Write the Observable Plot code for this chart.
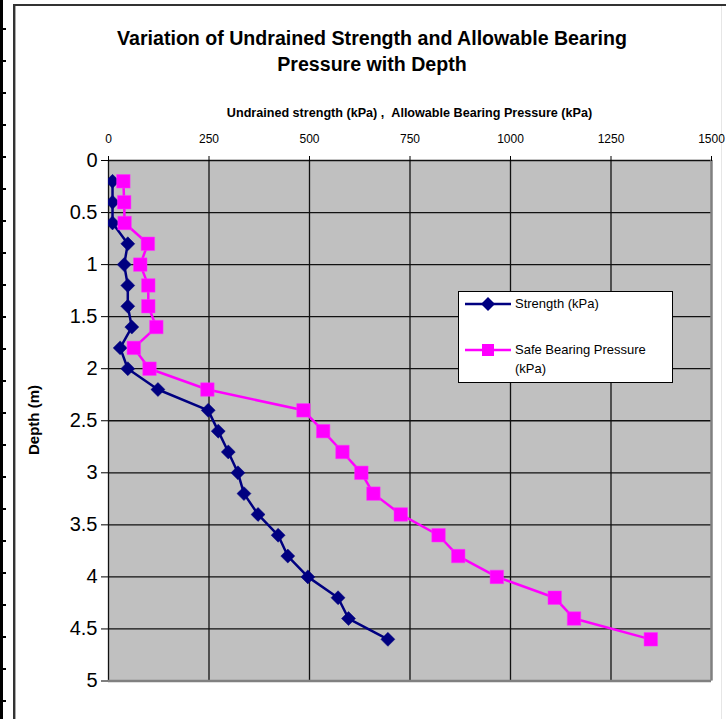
<!DOCTYPE html>
<html>
<head>
<meta charset="utf-8">
<script src="https://cdn.jsdelivr.net/npm/d3@7"></script>
<script src="https://cdn.jsdelivr.net/npm/@observablehq/plot@0.6"></script>
<style>
  html, body { margin: 0; padding: 0; background: #fff; }
  #wrap { position: relative; width: 726px; height: 719px; overflow: hidden; font-family: "Liberation Sans", Arial, sans-serif; }
  #wrap svg.plot { position: absolute; left: 0; top: 0; }
  .abs { position: absolute; }
  .title { left: 14px; width: 716px; text-align: center; font-weight: bold; font-size: 19.6px; line-height: 26px; top: 25px; color: #000; }
  .xlabel { left: 108px; width: 603px; text-align: center; font-weight: bold; font-size: 12.6px; top: 106px; color: #000; }
  .ylabel { font-weight: bold; font-size: 15px; left: 33px; top: 420px; transform: translate(-50%, -50%) rotate(-90deg); white-space: nowrap; }
  .legend { left: 458px; top: 291px; width: 213px; height: 90px; background: #fff; border: 1px solid #000; }
  .legtext { font-size: 13px; color: #000; line-height: 19px; }
</style>
</head>
<body>
<div id="wrap"></div>
<script>
// ---- data ----
const depth = [0.2, 0.4, 0.6, 0.8, 1.0, 1.2, 1.4, 1.6, 1.8, 2.0, 2.2, 2.4, 2.6, 2.8, 3.0, 3.2, 3.4, 3.6, 3.8, 4.0, 4.2, 4.4, 4.6];
const strength = [10, 10, 10, 48, 39, 48, 48, 58, 29, 48, 123, 248, 273, 298, 322, 337, 372, 422, 446, 496, 571, 597, 695];
const bearing = [37, 39, 40, 98, 79, 99, 99, 119, 63, 102, 246, 485, 534, 582, 629, 659, 727, 821, 870, 966, 1110, 1158, 1349];
const xTicks = [0, 250, 500, 750, 1000, 1250, 1500];
const yTicks = [0, 0.5, 1, 1.5, 2, 2.5, 3, 3.5, 4, 4.5, 5];
const seriesNames = ["Strength (kPa)", "Safe Bearing Pressure (kPa)"];
const titleLines = ["Variation of Undrained Strength and Allowable Bearing", "Pressure with Depth"];
const xTitle = "Undrained strength (kPa) ,  Allowable Bearing Pressure (kPa)";
const yTitle = "Depth (m)";

const sData = depth.map((d, i) => ({depth: d, value: strength[i]}));
const bData = depth.map((d, i) => ({depth: d, value: bearing[i]}));
const navy = "#000080", pink = "#FF00FF";

const wrap = document.getElementById("wrap");
function add(html) { wrap.insertAdjacentHTML("beforeend", html); }

// decorations: sheet edge + chart border (behind the chart)
add(`<div class="abs" style="left:0;top:0;width:3px;height:719px;background:#000"></div>`);
add(`<div class="abs" style="left:0;top:0;width:6px;height:719px;background:repeating-linear-gradient(to bottom, transparent 0px, transparent 28px, #000 28px, #000 30px, transparent 30px, transparent 32px)"></div>`);
add(`<div class="abs" style="left:13px;top:4px;width:2px;height:715px;background:#333"></div>`);
add(`<div class="abs" style="left:15px;top:6px;width:1px;height:713px;background:#aaa"></div>`);
add(`<div class="abs" style="left:13px;top:4px;width:713px;height:2px;background:#333"></div>`);
add(`<div class="abs" style="left:721px;top:6px;width:1px;height:713px;background:#e6e6e6"></div>`);

const chart = Plot.plot({
  width: 726,
  height: 719,
  marginLeft: 108,
  marginRight: 15,
  marginTop: 160,
  marginBottom: 38.5,
  style: {fontFamily: '"Liberation Sans", Arial, sans-serif', background: "transparent"},
  x: {domain: [0, 1500]},
  y: {domain: [0, 5], reverse: true},
  marks: [
    Plot.frame({fill: "#C0C0C0", stroke: null}),
    Plot.gridX(xTicks.slice(0, -1), {stroke: "#111", strokeOpacity: 1, strokeWidth: 1.3}),
    Plot.gridY(yTicks.slice(0, -1), {stroke: "#111", strokeOpacity: 1, strokeWidth: 1.3}),
    Plot.ruleX([xTicks[xTicks.length - 1]], {stroke: "#808080", strokeWidth: 2.5}),
    Plot.ruleY([yTicks[yTicks.length - 1]], {stroke: "#808080", strokeWidth: 2.5}),
    Plot.axisX(xTicks, {anchor: "top", tickSize: 5, tickPadding: 13, fontSize: 12, label: null, tickFormat: d => `${d}`, stroke: "#000"}),
    Plot.axisY(yTicks, {anchor: "left", tickSize: 7, tickPadding: 4, fontSize: 20, label: null, tickFormat: d => `${d}`, stroke: "#000"}),
    Plot.line(sData, {x: "value", y: "depth", stroke: navy, strokeWidth: 2.5, clip: true}),
    Plot.dot(sData, {x: "value", y: "depth", symbol: "diamond2", r: 6.3, fill: navy, stroke: navy, strokeWidth: 0.5, clip: true}),
    Plot.line(bData, {x: "value", y: "depth", stroke: pink, strokeWidth: 2.5, clip: true}),
    Plot.dot(bData, {x: "value", y: "depth", symbol: "square", r: 7.6, fill: pink, stroke: "#ff33ff", strokeWidth: 0.5, clip: true})
  ]
});
chart.classList.add("plot");
wrap.appendChild(chart);

// titles
add(`<div class="abs title">${titleLines.join("<br>")}</div>`);
add(`<div class="abs xlabel">${xTitle.replace(/ {2}/g, " &nbsp;")}</div>`);
add(`<div class="abs ylabel">${yTitle}</div>`);

// legend
add(`<div class="abs legend"></div>`);
add(`<svg class="abs" style="left:458px;top:291px" width="60" height="90">
  <line x1="7" x2="53" y1="13" y2="13" stroke="${navy}" stroke-width="2.5"/>
  <path d="M30,6 L37,13 L30,20 L23,13 Z" fill="${navy}"/>
  <line x1="7" x2="53" y1="59" y2="59" stroke="${pink}" stroke-width="2.5"/>
  <rect x="24" y="53" width="12" height="12" fill="${pink}"/>
</svg>`);
add(`<div class="abs legtext" style="left:515px;top:294px">${seriesNames[0]}</div>`);
add(`<div class="abs legtext" style="left:515px;top:340px;width:150px">Safe Bearing Pressure<br>(kPa)</div>`);
</script>
</body>
</html>
